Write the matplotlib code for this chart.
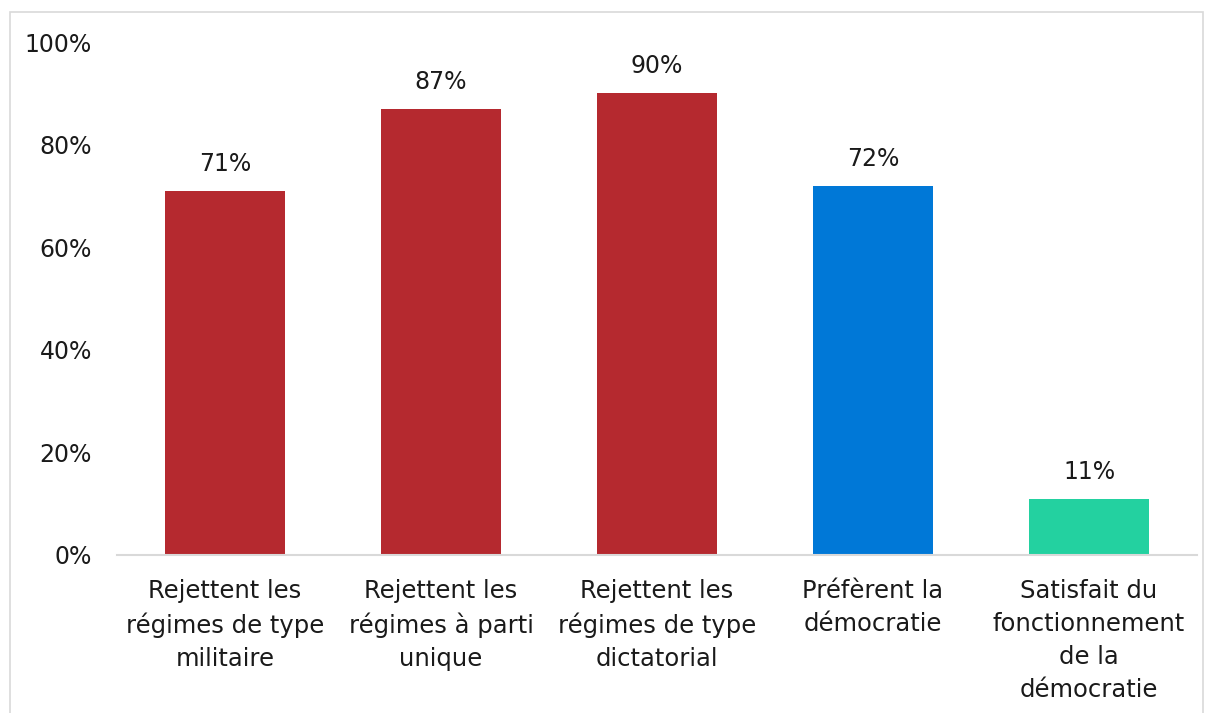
import matplotlib.pyplot as plt
from matplotlib.patches import Rectangle

# ── DATA ─────────────────────────────────────────────
categories = [
    "Rejettent les\nrégimes de type\nmilitaire",
    "Rejettent les\nrégimes à parti\nunique",
    "Rejettent les\nrégimes de type\ndictatorial",
    "Préfèrent la\ndémocratie",
    "Satisfait du\nfonctionnement\nde la\ndémocratie",
]
values = [71, 87, 90, 72, 11]
colors = ["#B5292F", "#B5292F", "#B5292F", "#0078D7", "#23D1A0"]
yticks = [0, 20, 40, 60, 80, 100]

plt.rcParams["font.family"] = ["DejaVu Sans"]

fig = plt.figure(figsize=(12.13, 7.13), dpi=100)
ax = fig.add_axes([117 / 1213, 1 - 555 / 713, 1080 / 1213, 513 / 713])

x = range(len(categories))
bars = ax.bar(x, values, width=0.555, color=colors)

for xi, v in zip(x, values):
    ax.text(xi, v + 2.9, f"{v}%", ha="center", va="bottom", fontsize=17, color="#1a1a1a")

ax.set_xlim(-0.5, len(categories) - 0.5)
ax.set_ylim(0, 100)
ax.set_yticks(yticks)
ax.set_yticklabels([f"{t}%" for t in yticks], fontsize=17, color="#1a1a1a")
ax.set_xticks(list(x))
ax.set_xticklabels(categories, fontsize=17.5, color="#1a1a1a", linespacing=1.48)

for s in ["top", "right", "left"]:
    ax.spines[s].set_visible(False)
ax.spines["bottom"].set_color("#D9D9D9")
ax.spines["bottom"].set_linewidth(1.5)
ax.tick_params(axis="y", length=0, pad=18)
ax.tick_params(axis="x", length=0, pad=17)

# light chart frame
fig.patches.append(Rectangle((10 / 1213, -0.01), 1193 / 1213, 1 - 12 / 713 + 0.01,
                             transform=fig.transFigure, fill=False,
                             edgecolor="#D9D9D9", linewidth=1.2))

fig.savefig("out.png", dpi=100)
